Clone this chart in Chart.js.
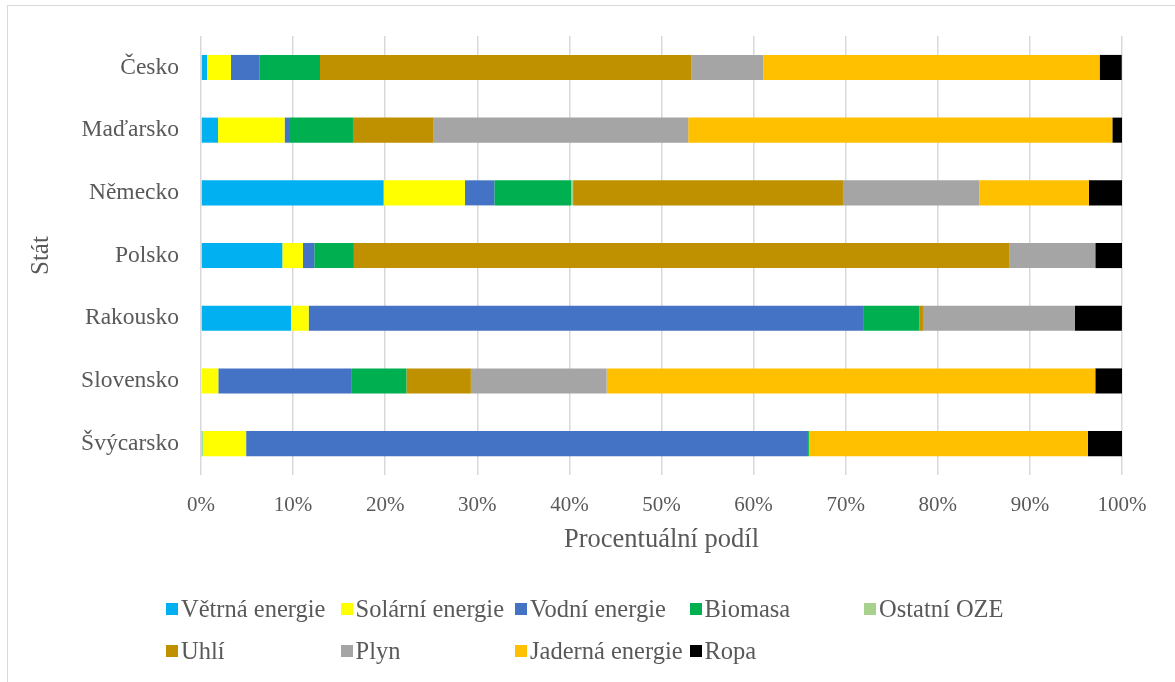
<!DOCTYPE html>
<html>
<head>
<meta charset="utf-8">
<script src="https://cdn.jsdelivr.net/npm/chart.js@4/dist/chart.umd.min.js"></script>
<style>
    html, body { margin: 0; padding: 0; background: #fff; overflow: hidden; }
    #wrap { position: relative; width: 1175px; height: 682px; }
    #frame { position: absolute; left: 7px; top: 5px; width: 1200px; height: 700px; border: 1px solid #d9d9d9; box-sizing: border-box; }
    #chart { position: absolute; left: 0; top: 0; }
    #legend { position: absolute; left: 166px; top: 596px; display: grid; grid-template-columns: repeat(5, 174.5px); row-gap: 16px;
              font-family: "Liberation Serif", "Times New Roman", serif; font-size: 24.5px; color: #595959; }
    #legend .item { display: flex; align-items: center; white-space: nowrap; height: 26px; }
    #legend .box { width: 12px; height: 12px; margin-right: 3px; flex: none; }
</style>
</head>
<body>
<div id="wrap">
    <div id="frame"></div>
    <canvas id="chart" width="1175" height="682"></canvas>
    <div id="legend"></div>
</div>
<script>
// Data (shares in %)
const countries = ['Česko', 'Maďarsko', 'Německo', 'Polsko', 'Rakousko', 'Slovensko', 'Švýcarsko'];
const seriesNames = ['Větrná energie', 'Solární energie', 'Vodní energie', 'Biomasa', 'Ostatní OZE', 'Uhlí', 'Plyn', 'Jaderná energie', 'Ropa'];
const seriesColors = ['#00B0F0', '#FFFF00', '#4472C4', '#00B050', '#A9D18E', '#BF9000', '#A5A5A5', '#FFC000', '#000000'];

const vetrna   = [0.65, 1.85, 19.83, 8.83, 9.77, 0, 0.15];
const solarni  = [2.6, 7.23, 8.83, 2.24, 1.92, 1.88, 4.75];
const vodni    = [3.07, 0.58, 3.19, 1.23, 60.2, 14.42, 60.9];
const biomasa  = [6.6, 6.84, 8.35, 4.3, 6.1, 6.0, 0.2];
const ostatni  = [0, 0, 0.2, 0, 0, 0, 0];
const uhli     = [40.35, 8.7, 29.3, 71.2, 0.4, 7.0, 0];
const plyn     = [7.8, 27.7, 14.8, 9.3, 16.5, 14.75, 0];
const jaderna  = [36.5, 46.05, 11.9, 0, 0, 53.05, 30.3];
const ropa     = [2.4, 1.05, 3.6, 2.9, 5.1, 2.9, 3.7];

const xTicks = [0, 10, 20, 30, 40, 50, 60, 70, 80, 90, 100];

const seriesValues = [vetrna, solarni, vodni, biomasa, ostatni, uhli, plyn, jaderna, ropa];
const fontFamily = '"Liberation Serif", "Times New Roman", serif';
const textColor = '#595959';

const datasets = seriesNames.map((name, i) => ({
    label: name,
    data: seriesValues[i],
    backgroundColor: seriesColors[i],
    borderWidth: 0,
    barPercentage: 0.4,
    categoryPercentage: 1.0
}));

const ctx = document.getElementById('chart').getContext('2d');
const chart = new Chart(ctx, {
    type: 'bar',
    data: { labels: countries, datasets: datasets },
    options: {
        indexAxis: 'y',
        responsive: false,
        animation: false,
        layout: { padding: { left: 22, top: 35, right: 53, bottom: 123 } },
        plugins: {
            legend: { display: false },
            tooltip: { enabled: false }
        },
        scales: {
            x: {
                stacked: true,
                min: 0,
                max: 100,
                afterBuildTicks: scale => { scale.ticks = xTicks.map(v => ({ value: v })); },
                afterFit: scale => { scale.height = 84; },
                grid: { color: '#d9d9d9', lineWidth: 1.5, drawTicks: false },
                border: { display: false },
                ticks: {
                    padding: 18,
                    color: textColor,
                    font: { family: fontFamily, size: 21 },
                    callback: v => v + '%'
                },
                title: {
                    display: true,
                    text: 'Procentuální podíl',
                    color: textColor,
                    font: { family: fontFamily, size: 26.5 },
                    padding: { top: 4, bottom: 3 }
                }
            },
            y: {
                stacked: true,
                afterFit: scale => { scale.width = 179; },
                grid: { display: false, drawTicks: false },
                border: { display: false },
                ticks: {
                    padding: 22,
                    color: textColor,
                    font: { family: fontFamily, size: 23.5 }
                },
                title: {
                    display: true,
                    text: 'Stát',
                    color: textColor,
                    font: { family: fontFamily, size: 25 },
                    padding: { top: 4, bottom: 4 }
                }
            }
        }
    }
});

// HTML legend built from the chart's datasets
const legendEl = document.getElementById('legend');
chart.data.datasets.forEach(ds => {
    const item = document.createElement('div');
    item.className = 'item';
    item.innerHTML = `<span class="box" style="background:${ds.backgroundColor}"></span><span>${ds.label}</span>`;
    legendEl.appendChild(item);
});
</script>
</body>
</html>
